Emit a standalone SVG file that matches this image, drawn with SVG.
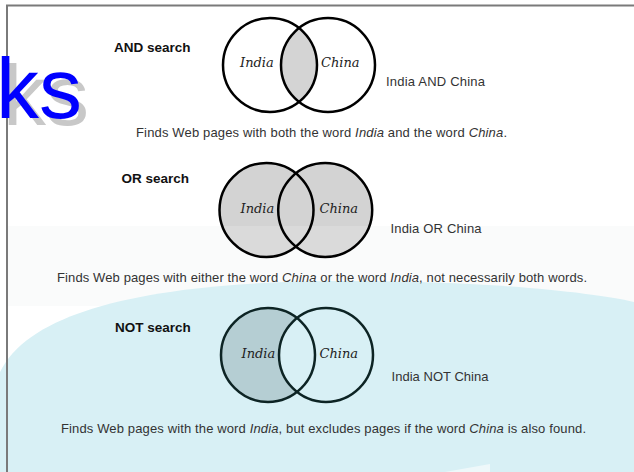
<svg xmlns="http://www.w3.org/2000/svg" width="634" height="472" viewBox="0 0 634 472">
  <defs>
    <style>
      .lbl { font-family: "Liberation Sans", Arial, sans-serif; font-size: 13.5px; font-weight: bold; fill: #111; }
      .op { font-family: "Liberation Sans", Arial, sans-serif; font-size: 13px; fill: #333; }
      .desc { font-family: "Liberation Sans", Arial, sans-serif; font-size: 13px; fill: #333; }
      .set { font-family: "DejaVu Serif", "Liberation Serif", serif; font-size: 13px; font-style: italic; fill: #222; }
      .ring { fill: none; stroke: #000; stroke-width: 2.5; }
      .ringN { fill: none; stroke: #0d2424; stroke-width: 2.5; }
      .it { font-style: italic; }
    </style>
    <linearGradient id="orFill" gradientUnits="userSpaceOnUse" x1="0" y1="160" x2="0" y2="260">
      <stop offset="0" stop-color="#d3d3d3"/>
      <stop offset="0.66" stop-color="#d3d3d3"/>
      <stop offset="0.66" stop-color="#dadada"/>
      <stop offset="1" stop-color="#dadada"/>
    </linearGradient>
  </defs>

  <!-- background -->
  <rect x="0" y="0" width="634" height="472" fill="#ffffff"/>
  <rect x="8" y="226" width="626" height="80" fill="#fafbfb"/>
  <path d="M0,372 C30,310 150,283 330,281 C480,280 590,292 634,302 L634,472 L0,472 Z" fill="#d8f0f5"/>
  <path d="M445,472 L490,464 L490,472 Z" fill="#eef8fa"/>

  <!-- frame -->
  <path d="M7,472 L7,5.5 L634,5.5" fill="none" stroke="#7a7a7a" stroke-width="2"/>

  <!-- title fragment -->
  <g id="title">
    <text x="3" y="125" font-family="Liberation Sans, Arial, sans-serif" font-size="86" fill="#c8c8c8">ks</text>
    <text x="-4" y="118" font-family="Liberation Sans, Arial, sans-serif" font-size="86" fill="#0000ff">ks</text>
  </g>

  <!-- AND -->
  <g id="and-search">
    <text class="lbl" x="114" y="52">AND search</text>
    <path d="M299,28 A47,47 0 0 1 299,102 A47,47 0 0 1 299,28 Z" fill="#d4d4d4"/>
    <circle class="ring" cx="270" cy="65" r="47"/>
    <circle class="ring" cx="328" cy="65" r="47"/>
    <text class="set" x="240" y="67">India</text>
    <text class="set" x="321" y="67">China</text>
    <text class="op" x="386" y="86" textLength="99">India AND China</text>
    <text class="desc" x="136" y="137" textLength="371">Finds Web pages with both the word <tspan class="it">India</tspan> and the word <tspan class="it">China</tspan>.</text>
  </g>

  <!-- OR -->
  <g id="or-search">
    <text class="lbl" x="121.5" y="183">OR search</text>
    <circle cx="266.5" cy="210" r="47" fill="url(#orFill)"/>
    <circle cx="325.2" cy="210" r="47" fill="url(#orFill)"/>
    <circle class="ring" cx="266.5" cy="210" r="47"/>
    <circle class="ring" cx="325.2" cy="210" r="47"/>
    <text class="set" x="240.5" y="213">India</text>
    <text class="set" x="319.5" y="213">China</text>
    <text class="op" x="390.5" y="233" textLength="91">India OR China</text>
    <text class="desc" x="57" y="282" textLength="530">Finds Web pages with either the word <tspan class="it">China</tspan> or the word <tspan class="it">India</tspan>, not necessarily both words.</text>
  </g>

  <!-- NOT -->
  <g id="not-search">
    <text class="lbl" x="115" y="332">NOT search</text>
    <path d="M297,318 A47,47 0 1 0 297,392 A47,47 0 0 1 297,318 Z" fill="#b5ced3"/>
    <circle class="ringN" cx="268" cy="355" r="47"/>
    <circle class="ringN" cx="326" cy="355" r="47"/>
    <text class="set" x="241.5" y="358">India</text>
    <text class="set" x="319.5" y="358">China</text>
    <text class="op" x="391.5" y="381" textLength="97">India NOT China</text>
    <text class="desc" x="61" y="433" textLength="525">Finds Web pages with the word <tspan class="it">India</tspan>, but excludes pages if the word <tspan class="it">China</tspan> is also found.</text>
  </g>
</svg>
